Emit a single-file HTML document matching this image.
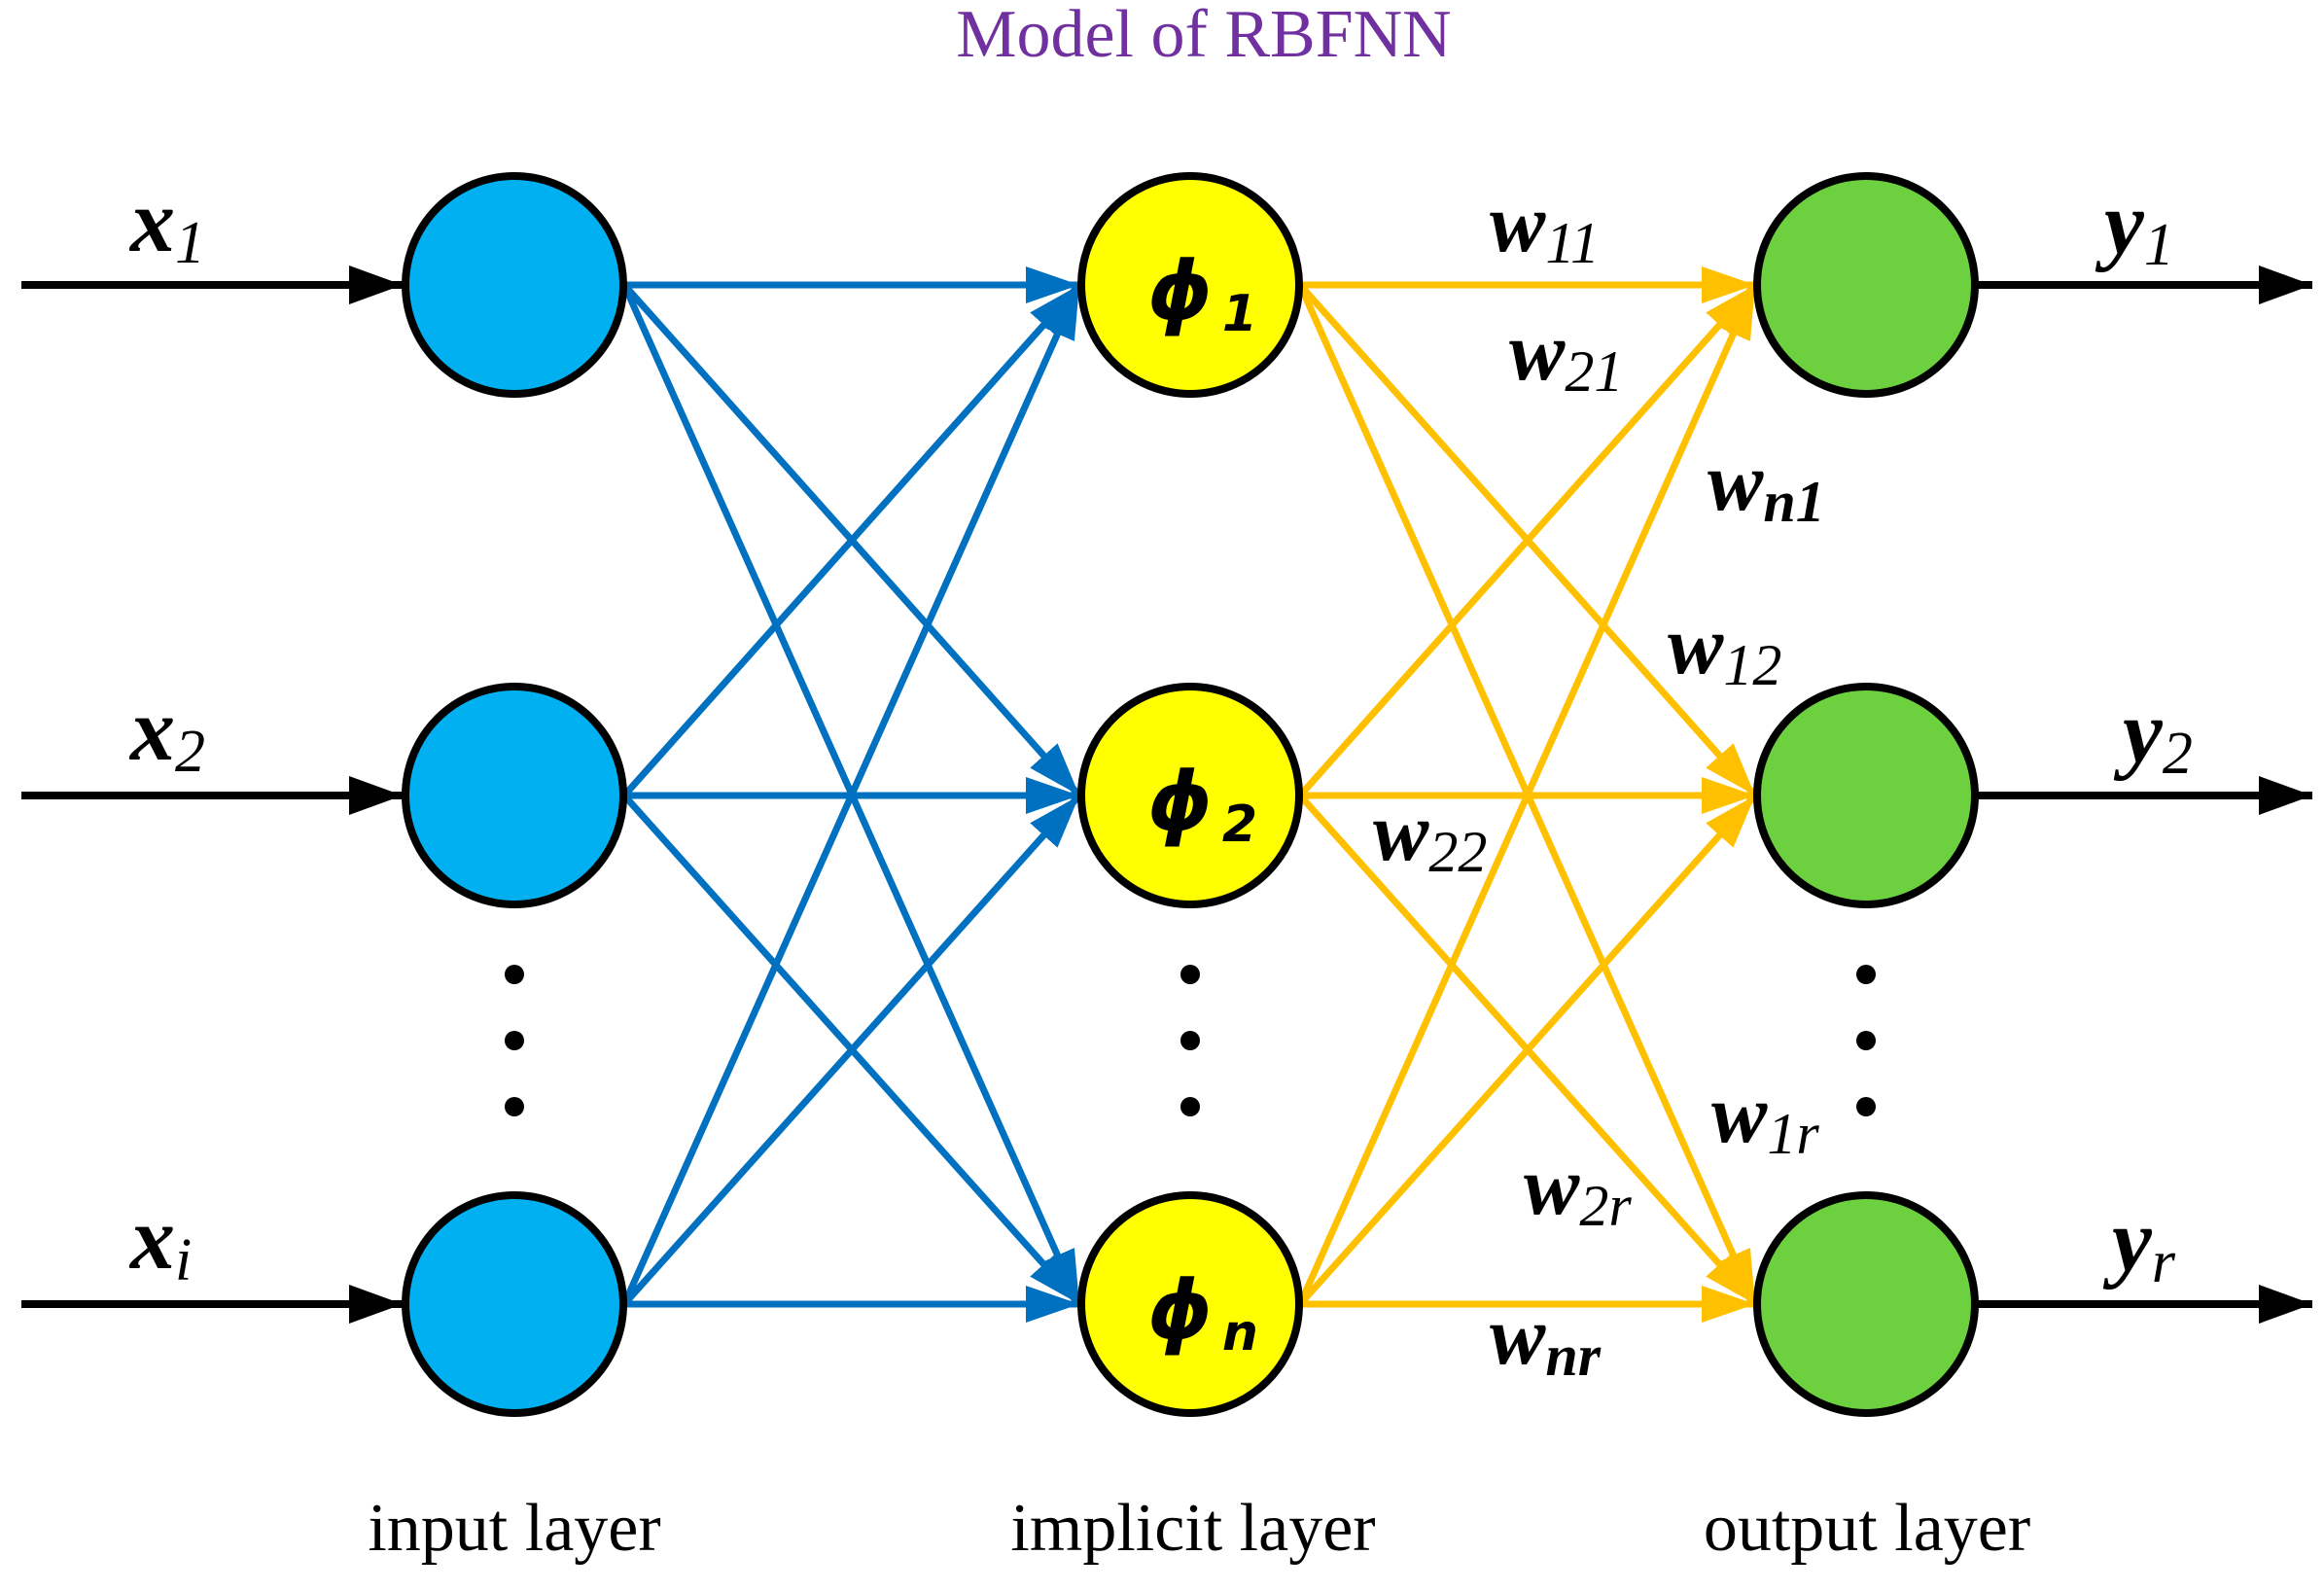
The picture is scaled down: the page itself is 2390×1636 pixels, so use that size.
<!DOCTYPE html>
<html><head><meta charset="utf-8"><style>
html,body{margin:0;padding:0;background:#fff;}
svg{display:block;}
.s{font-family:"Liberation Serif",serif;}
.bi{font-family:"Liberation Serif",serif;font-weight:bold;font-style:italic;}
.i{font-family:"Liberation Serif",serif;font-style:italic;font-weight:normal;}
.ph{font-family:"DejaVu Sans",sans-serif;font-weight:bold;font-style:italic;}
</style></head><body>
<svg width="2390" height="1636" viewBox="0 0 2390 1636" xmlns="http://www.w3.org/2000/svg">
<defs>
<marker id="ab" viewBox="0 0 10 10" preserveAspectRatio="none" refX="10" refY="5" markerUnits="userSpaceOnUse" markerWidth="55" markerHeight="38" orient="auto"><path d="M0,0 L10,5 L0,10 z" fill="#0070C0"/></marker>
<marker id="ay" viewBox="0 0 10 10" preserveAspectRatio="none" refX="10" refY="5" markerUnits="userSpaceOnUse" markerWidth="55" markerHeight="38" orient="auto"><path d="M0,0 L10,5 L0,10 z" fill="#FFC000"/></marker>
<marker id="ak" viewBox="0 0 10 10" preserveAspectRatio="none" refX="10" refY="5" markerUnits="userSpaceOnUse" markerWidth="55" markerHeight="40" orient="auto"><path d="M0,0 L10,5 L0,10 z" fill="#000"/></marker>
</defs>
<text x="1238" y="58" text-anchor="middle" class="s" font-size="70" fill="#7030A0">Model of RBFNN</text>

<g stroke="#000" stroke-width="8" marker-end="url(#ak)">
<line x1="22" y1="293" x2="414" y2="293"/>
<line x1="22" y1="818" x2="414" y2="818"/>
<line x1="22" y1="1341" x2="414" y2="1341"/>
<line x1="2034" y1="293" x2="2378" y2="293"/>
<line x1="2034" y1="818" x2="2378" y2="818"/>
<line x1="2034" y1="1341" x2="2378" y2="1341"/>
</g>

<g stroke="#0070C0" stroke-width="7" marker-end="url(#ab)">
<line x1="642" y1="293" x2="1110" y2="293"/>
<line x1="642" y1="293" x2="1110" y2="818"/>
<line x1="642" y1="293" x2="1110" y2="1341"/>
<line x1="642" y1="818" x2="1110" y2="293"/>
<line x1="642" y1="818" x2="1110" y2="818"/>
<line x1="642" y1="818" x2="1110" y2="1341"/>
<line x1="642" y1="1341" x2="1110" y2="293"/>
<line x1="642" y1="1341" x2="1110" y2="818"/>
<line x1="642" y1="1341" x2="1110" y2="1341"/>
</g>
<g stroke="#FFC000" stroke-width="7" marker-end="url(#ay)">
<line x1="1337" y1="293" x2="1805" y2="293"/>
<line x1="1337" y1="293" x2="1805" y2="818"/>
<line x1="1337" y1="293" x2="1805" y2="1341"/>
<line x1="1337" y1="818" x2="1805" y2="293"/>
<line x1="1337" y1="818" x2="1805" y2="818"/>
<line x1="1337" y1="818" x2="1805" y2="1341"/>
<line x1="1337" y1="1341" x2="1805" y2="293"/>
<line x1="1337" y1="1341" x2="1805" y2="818"/>
<line x1="1337" y1="1341" x2="1805" y2="1341"/>
</g>

<g stroke="#000" stroke-width="8">
<circle cx="529" cy="293" r="112" fill="#00B0F0"/>
<circle cx="529" cy="818" r="112" fill="#00B0F0"/>
<circle cx="529" cy="1341" r="112" fill="#00B0F0"/>
<circle cx="1224" cy="293" r="112" fill="#FFFF00"/>
<circle cx="1224" cy="818" r="112" fill="#FFFF00"/>
<circle cx="1224" cy="1341" r="112" fill="#FFFF00"/>
<circle cx="1919" cy="293" r="112" fill="#6DD03E"/>
<circle cx="1919" cy="818" r="112" fill="#6DD03E"/>
<circle cx="1919" cy="1341" r="112" fill="#6DD03E"/>
</g>
<g fill="#000">
<circle cx="529" cy="1002" r="10"/><circle cx="529" cy="1070" r="10"/><circle cx="529" cy="1138" r="10"/>
<circle cx="1224" cy="1002" r="10"/><circle cx="1224" cy="1070" r="10"/><circle cx="1224" cy="1138" r="10"/>
<circle cx="1919" cy="1002" r="10"/><circle cx="1919" cy="1070" r="10"/><circle cx="1919" cy="1138" r="10"/>
</g>

<g font-size="92">
<text x="134" y="258" class="bi">x<tspan class="i" font-size="62" dy="12">1</tspan></text>
<text x="134" y="781" class="bi">x<tspan class="i" font-size="62" dy="12">2</tspan></text>
<text x="134" y="1304" class="bi">x<tspan class="i" font-size="62" dy="12">i</tspan></text>
<text x="2164" y="260" class="bi">y<tspan class="i" font-size="62" dy="12">1</tspan></text>
<text x="2183" y="783" class="bi">y<tspan class="i" font-size="62" dy="12">2</tspan></text>
<text x="2172" y="1306" class="bi">y<tspan class="i" font-size="62" dy="12">r</tspan></text>
</g>

<g font-size="84" class="ph" fill="#000">
<text x="1180" y="328">ϕ<tspan font-size="52" dx="10" dy="12">1</tspan></text>
<text x="1180" y="853">ϕ<tspan font-size="52" dx="10" dy="12">2</tspan></text>
<text x="1180" y="1376">ϕ<tspan font-size="52" dx="10" dy="12">n</tspan></text>
</g>

<g font-size="86">
<text x="1532" y="258" class="bi">w<tspan class="i" font-size="60" dy="12">11</tspan></text>
<text x="1552" y="390" class="bi">w<tspan class="i" font-size="60" dy="12">21</tspan></text>
<text x="1756" y="524" class="bi">w<tspan class="bi" font-size="60" dy="12">n1</tspan></text>
<text x="1715" y="692" class="bi">w<tspan class="i" font-size="60" dy="12">12</tspan></text>
<text x="1412" y="884" class="bi">w<tspan class="i" font-size="60" dy="12">22</tspan></text>
<text x="1760" y="1174" class="bi">w<tspan class="i" font-size="60" dy="12">1r</tspan></text>
<text x="1567" y="1248" class="bi">w<tspan class="i" font-size="60" dy="12">2r</tspan></text>
<text x="1532" y="1402" class="bi">w<tspan class="bi" font-size="60" dy="12">nr</tspan></text>
</g>

<g font-size="70" class="s" text-anchor="middle">
<text x="529" y="1594">input layer</text>
<text x="1227" y="1594">implicit layer</text>
<text x="1920" y="1594">output layer</text>
</g>
</svg>
</body></html>
